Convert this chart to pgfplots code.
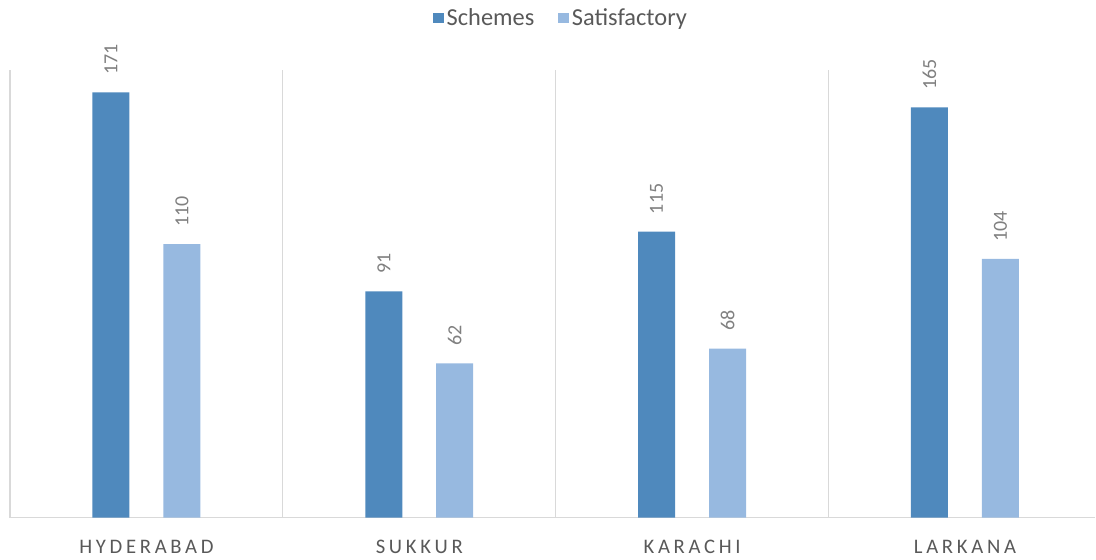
\documentclass[border=0pt]{standalone}
\usepackage{pgfplots}
\pgfplotsset{compat=1.18}
\usepackage{fontspec}
\setmainfont{Carlito}
\newfontfamily\catfont[LetterSpace=18]{Carlito}
\definecolor{cSch}{RGB}{79,137,189}
\definecolor{cSat}{RGB}{151,185,224}
\definecolor{cGrid}{RGB}{217,217,217}
\definecolor{cTxt}{RGB}{89,89,89}
\definecolor{cLab}{RGB}{128,128,128}
\begin{document}
\begin{tikzpicture}
\begin{axis}[
  scale only axis, width=814.5pt, height=336pt,
  xmin=-0.5, xmax=3.478, ymin=0, ymax=180,
  ybar=25.5pt, bar width=27.75pt,
  axis y line=none, axis x line=bottom,
  x axis line style={-, draw=cGrid, line width=1pt},
  xtick={0,1,2,3},
  xticklabels={HYDERABAD,SUKKUR,KARACHI,LARKANA},
  xticklabel style={font=\catfont\fontsize{15.5}{18}\selectfont, text=cTxt, inner sep=0pt, anchor=north, yshift=-16.5pt},
  major tick length=0pt,
  extra x ticks={-0.5,0.5,1.5,2.5},
  extra x tick labels={},
  extra x tick style={grid=major, major grid style={draw=cGrid, line width=1pt}},
  nodes near coords,
  /pgf/number format/assume math mode=true,
  every node near coord/.append style={font=\fontsize{15}{18}\selectfont, text=cLab, rotate=90, anchor=west, inner xsep=13pt, inner ysep=0pt},
  legend style={at={(0.508,1.116)}, anchor=center, draw=none, fill=none, legend columns=2,
    font=\fontsize{18.3}{22}\selectfont, text=cTxt,
    /tikz/every even column/.append style={column sep=16pt}},
  legend image code/.code={\fill[#1] (0pt,-4.1pt) rectangle (8.25pt,4.1pt);},
]
\addplot[draw=none, fill=cSch] coordinates {(0,171) (1,91) (2,115) (3,165)};
\addplot[draw=none, fill=cSat] coordinates {(0,110) (1,62) (2,68) (3,104)};
\legend{Schemes, Satisfactory}
\end{axis}
\path[use as bounding box] (-7.5pt,-31.5pt) rectangle (814.5pt,388.5pt);
\end{tikzpicture}
\end{document}
